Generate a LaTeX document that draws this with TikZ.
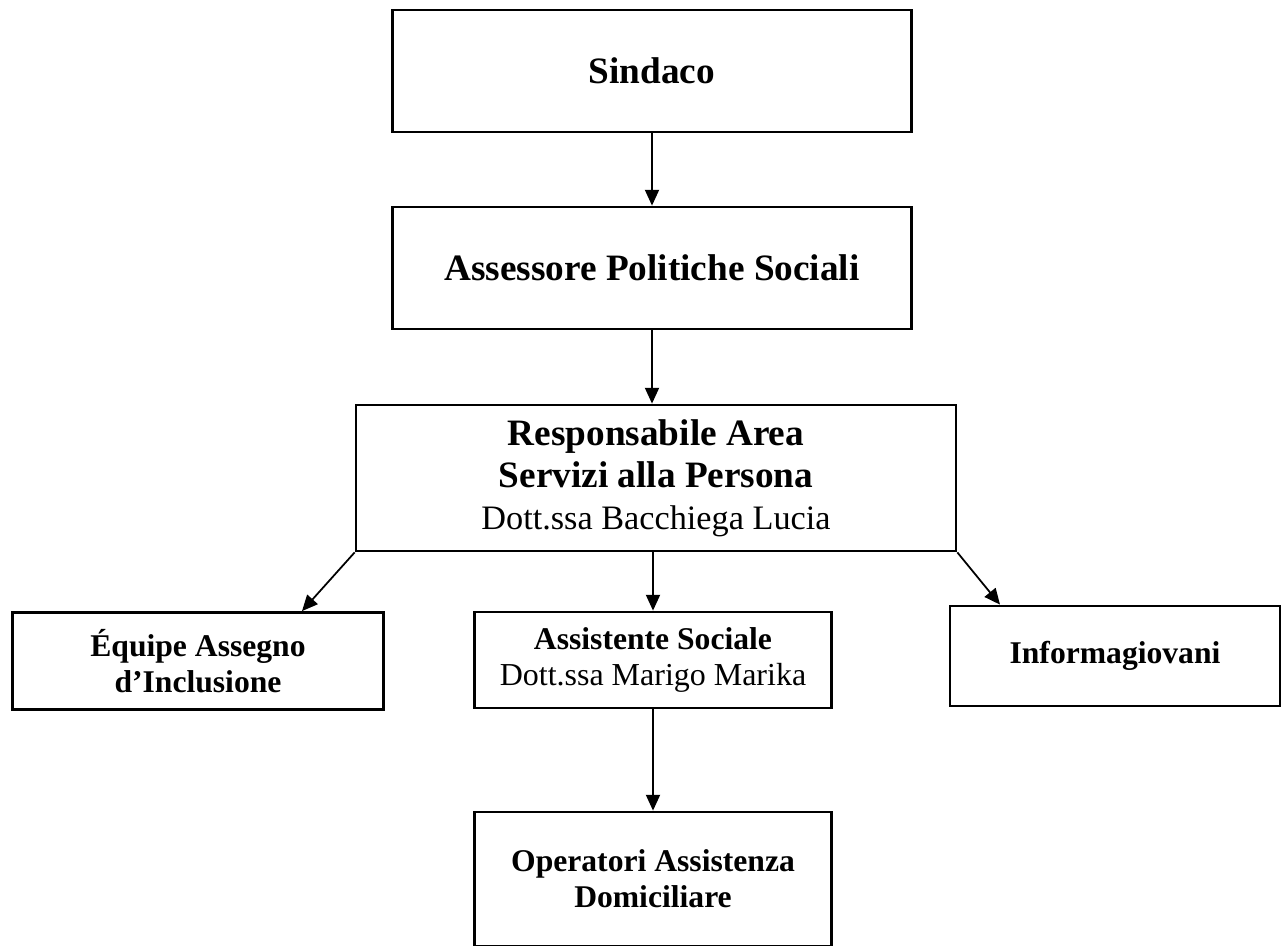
\documentclass[tikz,border=0pt]{standalone}
\usepackage{fontspec}
\setmainfont{Liberation Serif}
\usetikzlibrary{arrows.meta}

\tikzset{
  orgbox/.style={draw, line width=1.6pt, align=center, inner sep=0pt},
  orgarrow/.style={-{Triangle[length=9pt,width=8pt]}, line width=1pt},
  bigtext/.style={font=\fontsize{21.2}{24}\selectfont\bfseries},
  smalltext/.style={font=\fontsize{18}{20.5}\selectfont\bfseries},
}

\begin{document}
\begin{tikzpicture}[x=0.02cm,y=-0.02cm]
\useasboundingbox (0,0) rectangle (1282,946);

% Top levels
\node[orgbox, bigtext, minimum width=10.38cm, minimum height=2.44cm] (sindaco) at (652,71) {Sindaco};
\node[orgbox, bigtext, minimum width=10.38cm, minimum height=2.44cm] (assessore) at (652,268) {Assessore Politiche Sociali};

% Area manager
\node[orgbox, bigtext, minimum width=12cm, minimum height=2.92cm] (resp) at (656,478)
  {Responsabile Area\\Servizi alla Persona\\{\mdseries\fontsize{19.5}{23}\selectfont Dott.ssa Bacchiega Lucia}};

% Third row
\node[orgbox, smalltext, minimum width=7.42cm, minimum height=1.94cm] (equipe) at (198,661)
  {Équipe Assegno\\d’Inclusione};
\node[orgbox, smalltext, minimum width=7.14cm, minimum height=1.92cm] (assist) at (653,660)
  {Assistente Sociale\\{\mdseries\fontsize{18.2}{21}\selectfont Dott.ssa Marigo Marika}};
\node[orgbox, smalltext, minimum width=6.6cm, minimum height=2cm] (info) at (1115,656) {Informagiovani};

% Bottom
\node[orgbox, smalltext, minimum width=7.14cm, minimum height=2.68cm] (operatori) at (653,879)
  {Operatori Assistenza\\Domiciliare};

% Arrows
\draw[orgarrow] (sindaco) -- (assessore);
\draw[orgarrow] (assessore) -- (assessore |- resp.north);
\draw[orgarrow] (resp.south -| assist) -- (assist);
\draw[orgarrow] (resp.south west) -- (equipe.north -| 302,0);
\draw[orgarrow] (resp.south east) -- (info.north -| 1000,0);
\draw[orgarrow] (assist) -- (operatori);

\end{tikzpicture}
\end{document}
